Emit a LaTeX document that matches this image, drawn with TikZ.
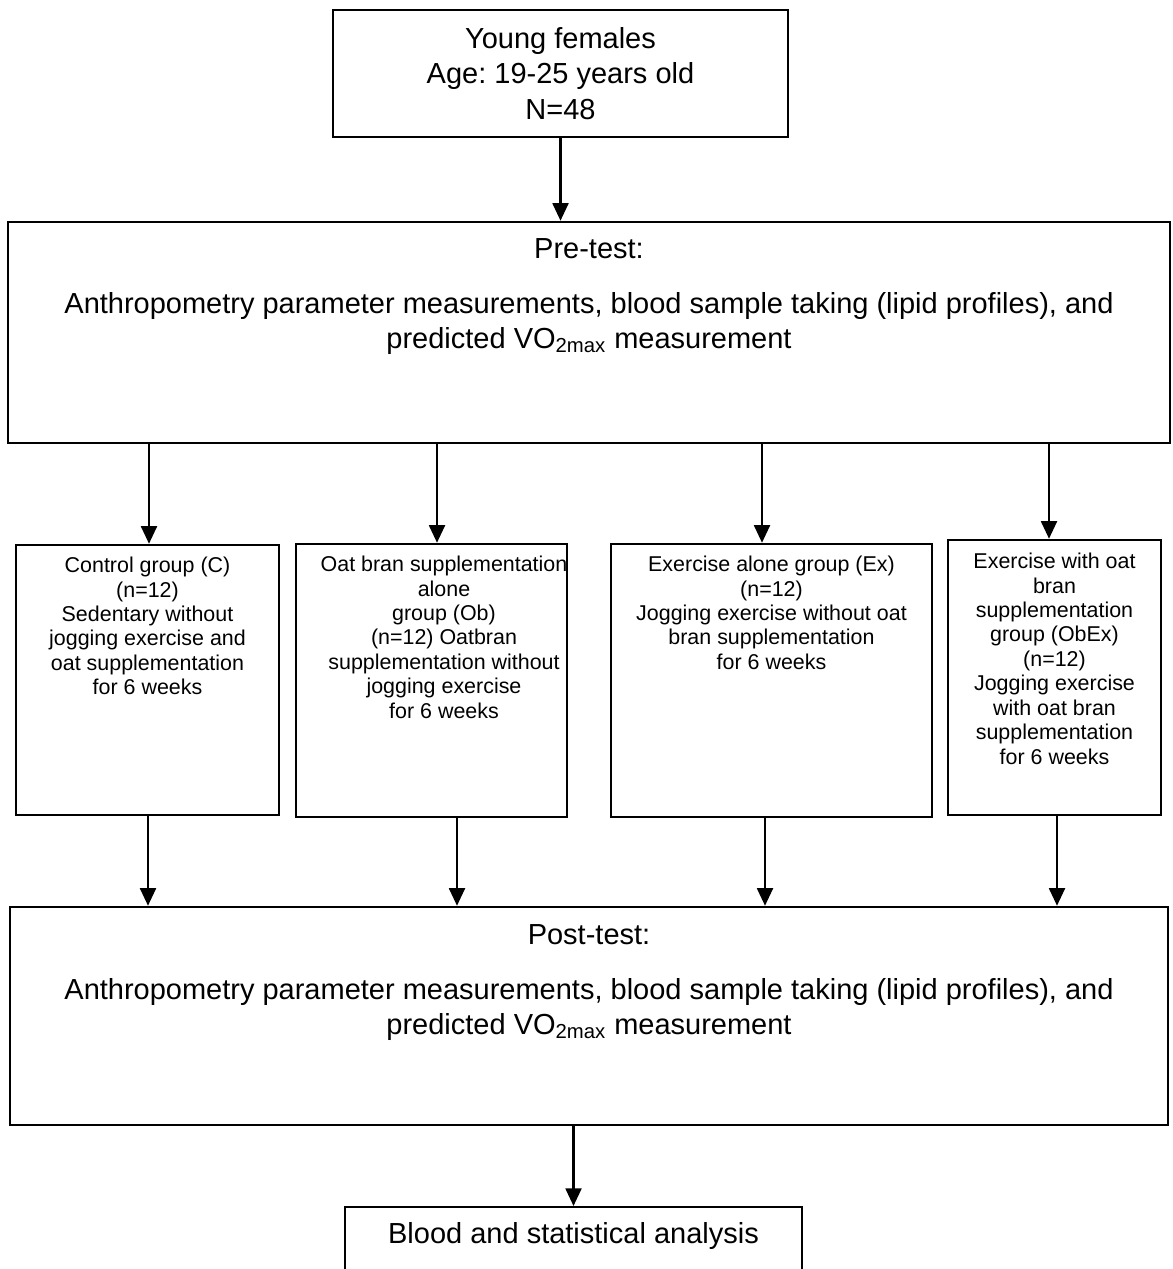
\documentclass[tikz,border=0pt]{standalone}
\usepackage{fontspec}
\setmainfont{Liberation Sans}
\frenchspacing
\usetikzlibrary{arrows.meta,positioning}
\begin{document}
\begin{tikzpicture}[
    box/.style={draw, line width=1.4pt, inner sep=0pt},
    arr/.style={-{Triangle[width=9pt,length=10pt]}, line width=1.4pt},
    big/.style={align=center, font=\fontsize{16.5}{20}\selectfont},
    small/.style={align=center, anchor=north, inner sep=0pt, font=\fontsize{12.2}{13.9}\selectfont}
  ]
  \useasboundingbox (0,0) rectangle (23.44,-25.38);
  % participants
  \node[box, big, minimum width=9.1cm, minimum height=2.54cm] (young) at (11.21,-1.47)
    {Young females\\Age: 19-25 years old\\N=48};
  % pre-test
  \node[box, minimum width=23.24cm, minimum height=4.42cm] (pre) at (11.78,-6.65) {};
  \node[big, anchor=north, inner sep=0pt] (pretxt) at ([yshift=-0.34cm]pre.north)
    {Pre-test:\\[0.4cm]
     Anthropometry parameter measurements, blood sample taking (lipid profiles), and\\
     predicted VO\textsubscript{2max} measurement};
  % groups
  \node[box, minimum width=5.26cm, minimum height=5.4cm] (C) at (2.95,-13.6) {};
  \node[box, minimum width=5.42cm, minimum height=5.46cm] (Ob) at (8.63,-13.61) {};
  \node[box, minimum width=6.42cm, minimum height=5.46cm] (Ex) at (15.43,-13.61) {};
  \node[box, minimum width=4.26cm, minimum height=5.5cm] (ObEx) at (21.09,-13.55) {};
  \node[small] (Ctxt) at ([yshift=-0.26cm]C.north)
    {Control group (C)\\(n=12)\\Sedentary without\\jogging exercise and\\oat supplementation\\for 6 weeks};
  \node[small] (Obtxt) at ([xshift=0.25cm,yshift=-0.26cm]Ob.north)
    {Oat bran supplementation\\alone\\group (Ob)\\(n=12) Oatbran\\supplementation without\\jogging exercise\\for 6 weeks};
  \node[small] (Extxt) at ([yshift=-0.26cm]Ex.north)
    {Exercise alone group (Ex)\\(n=12)\\Jogging exercise without oat\\bran supplementation\\for 6 weeks};
  \node[small] (ObExtxt) at ([yshift=-0.28cm]ObEx.north)
    {Exercise with oat\\bran\\supplementation\\group (ObEx)\\(n=12)\\Jogging exercise\\with oat bran\\supplementation\\for 6 weeks};
  % post-test
  \node[box, minimum width=23.16cm, minimum height=4.36cm] (post) at (11.78,-20.32) {};
  \node[big, anchor=north, inner sep=0pt] (posttxt) at ([yshift=-0.36cm]post.north)
    {Post-test:\\[0.4cm]
     Anthropometry parameter measurements, blood sample taking (lipid profiles), and\\
     predicted VO\textsubscript{2max} measurement};
  % analysis
  \node[box, anchor=north, minimum width=9.14cm, minimum height=2cm] (stat) at (11.47,-24.12) {};
  \node[big, anchor=north, inner sep=0pt] (stattxt) at ([yshift=-0.32cm]stat.north)
    {Blood and statistical analysis};
  % arrows
  \draw[arr] (young.south) -- (young.south |- pre.north);
  \foreach \g/\a/\b in {C/0.03/0.01, Ob/0.11/0.51, Ex/-0.19/-0.13, ObEx/-0.11/0.05} {
    \draw[arr] ([xshift=\a cm]\g.north |- pre.south) -- ([xshift=\a cm]\g.north);
    \draw[arr] ([xshift=\b cm]\g.south) -- ([xshift=\b cm]\g.south |- post.north);
  }
  \draw[arr] (stat.north |- post.south) -- (stat.north);
\end{tikzpicture}
\end{document}
